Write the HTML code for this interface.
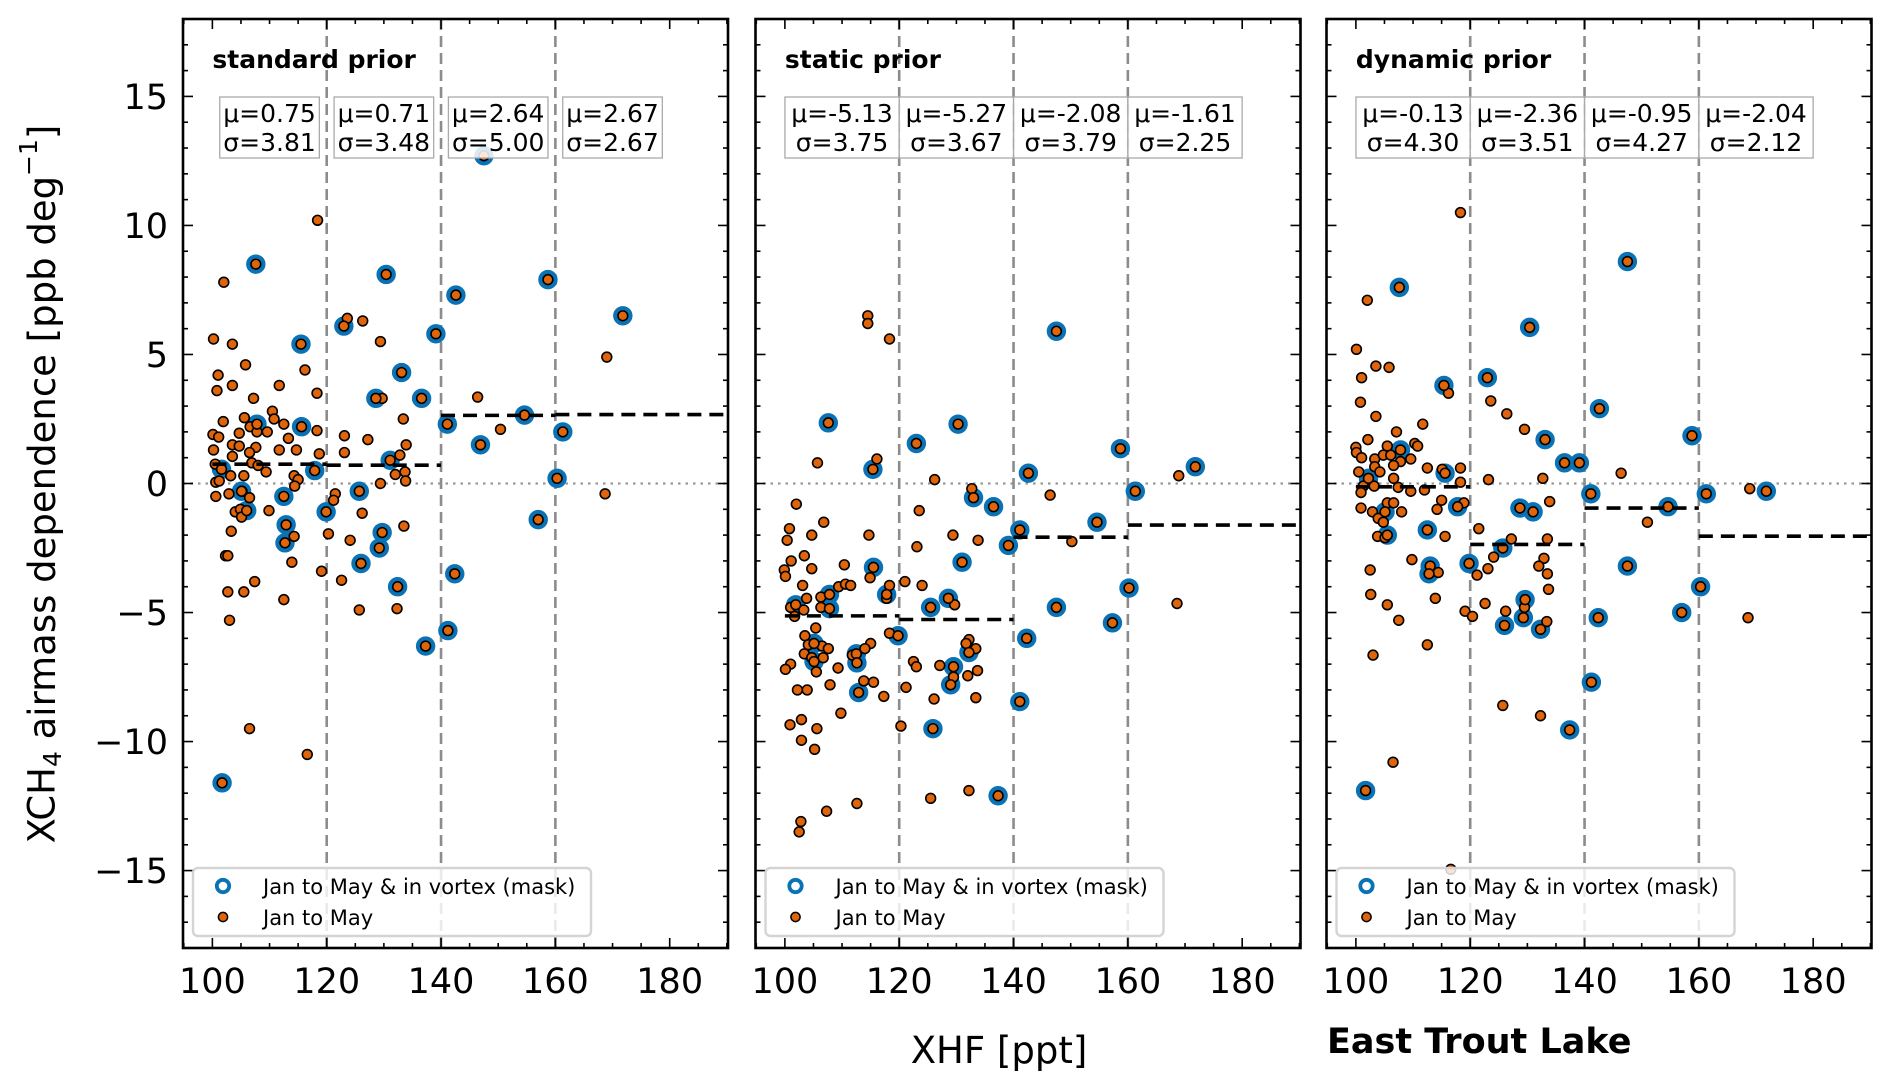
<!DOCTYPE html>
<html><head><meta charset="utf-8"><title>XCH4 airmass dependence vs XHF</title>
<style>html,body{margin:0;padding:0;background:#fff}svg{display:block}text{font-family:"DejaVu Sans","Liberation Sans",sans-serif}</style>
</head><body>
<svg id="chart" xmlns="http://www.w3.org/2000/svg" width="1892" height="1091" viewBox="0 0 1892 1091">
<rect x="0" y="0" width="1892" height="1091" fill="#fff"/>
<g id="layer"></g>
<text transform="translate(42,484) rotate(-90)" text-anchor="middle" dominant-baseline="central" font-size="37">XCH<tspan font-size="25" dy="10">4</tspan><tspan dy="-10"> airmass dependence [ppb deg</tspan><tspan font-size="25" dy="-14">−1</tspan><tspan dy="14">]</tspan></text>
<text x="999" y="1063" text-anchor="middle" font-size="37">XHF [ppt]</text>
<text x="1327" y="1053" font-size="35" font-weight="bold">East Trout Lake</text>
</svg>
<script>
// ---- data (panel 1: standard prior) ----
const p1x = [118.4,102.0,100.2,103.5,105.8,101.0,103.5,100.8,116.2,111.7,107.2,118.3,123.6,126.3,129.4,129.7,133.4,146.4,150.4,169.0,168.7,110.5,110.8,105.6,101.9,112.5,106.6,109.6,107.8,104.7,100.1,101.1,113.3,118.3,103.5,104.7,107.6,100.2,111.7,114.7,106.5,103.5,118.7,123.1,127.2,123.1,133.9,132.8,100.5,106.9,108.0,109.4,105.5,103.2,114.3,115.0,133.7,132.0,133.8,129.4,100.6,101.2,114.4,102.9,100.6,106.5,105.2,109.9,104.0,104.9,105.1,103.3,121.5,121.2,126.2,133.5,120.3,124.1,114.3,102.3,102.7,113.9,107.4,119.1,122.6,102.7,105.5,112.5,125.7,132.3,103.0,106.5,116.6];
const p1y = [10.2,7.8,5.6,5.4,4.6,4.2,3.8,3.6,4.4,3.8,3.3,3.5,6.4,6.3,5.5,3.3,2.5,3.35,2.1,4.9,-0.4,2.8,2.5,2.55,2.4,2.3,2.2,2.0,2.0,1.95,1.9,1.8,1.75,2.05,1.5,1.45,1.4,1.3,1.3,1.3,1.2,1.05,1.15,1.85,1.7,1.2,1.5,1.1,0.75,0.8,0.7,0.45,0.3,0.3,0.3,0.15,0.45,0.35,0.1,0.0,0.05,0.1,-0.1,-0.4,-0.5,-0.55,-0.3,-1.05,-1.1,-1.0,-1.3,-1.85,-0.4,-0.65,-1.15,-1.65,-1.95,-2.2,-2.05,-2.8,-2.8,-3.05,-3.8,-3.4,-3.75,-4.2,-4.2,-4.5,-4.9,-4.85,-5.3,-9.5,-10.5];
const p1mx = [107.6,130.4,123.0,115.5,133.1,128.6,136.6,139.1,142.6,147.5,158.7,171.8,154.6,141.1,146.9,161.3,160.3,157.0,142.4,141.2,137.3,132.4,129.2,129.7,126.0,125.7,119.9,131.1,117.9,115.6,107.8,105.1,106.0,112.5,112.9,112.7,101.6,101.7];
const p1my = [8.5,8.1,6.1,5.4,4.3,3.3,3.3,5.8,7.3,12.7,7.9,6.5,2.65,2.3,1.5,2.0,0.2,-1.4,-3.5,-5.7,-6.3,-4.0,-2.5,-1.9,-3.1,-0.3,-1.1,0.9,0.5,2.2,2.3,-0.3,-1.05,-0.5,-1.6,-2.3,0.55,-11.6];
const p1mean = [0.75,0.71,2.64,2.67];
const p1std = [3.81,3.48,5.00,2.67];
// ---- data (panel 2: static prior) ----
const p2x = [114.5,114.5,118.3,105.7,116.1,126.2,132.7,146.4,168.9,102.0,123.5,106.8,100.8,100.4,104.7,114.7,129.4,133.8,123.1,150.2,103.4,101.1,99.9,100.1,104.7,110.4,114.9,103.1,109.4,110.6,111.5,118.3,121.0,124.0,117.8,103.8,106.3,101.0,106.3,103.3,101.7,129.7,168.6,105.4,118.3,103.5,104.1,106.5,107.6,115.0,114.0,132.2,131.7,133.4,103.4,104.7,106.7,111.8,101.0,100.1,105.5,109.3,122.5,123.0,127.1,133.7,132.0,129.5,113.8,115.5,107.9,102.2,103.9,117.3,121.2,126.1,133.4,109.8,100.9,102.9,105.6,120.3,102.9,105.2,112.6,125.5,132.2,107.3,102.8,102.5];
const p2y = [6.5,6.2,5.6,0.8,0.95,0.15,-0.2,-0.45,0.3,-0.8,-1.05,-1.5,-1.75,-2.2,-2.0,-2.0,-2.0,-2.2,-2.45,-2.25,-2.8,-3.0,-3.35,-3.6,-3.3,-3.15,-3.65,-3.95,-4.0,-3.9,-3.95,-3.95,-3.8,-3.95,-4.45,-4.45,-4.4,-4.8,-4.8,-4.9,-5.15,-4.7,-4.65,-5.6,-5.8,-5.9,-6.25,-6.3,-6.4,-6.2,-6.4,-6.05,-6.2,-6.4,-6.6,-6.75,-6.75,-6.65,-7.0,-7.2,-7.3,-7.15,-6.9,-7.1,-7.05,-7.25,-7.45,-7.5,-7.65,-7.7,-7.8,-8.0,-8.0,-8.25,-7.9,-8.35,-8.3,-8.9,-9.35,-9.15,-9.5,-9.4,-9.95,-10.3,-12.4,-12.2,-11.9,-12.7,-13.1,-13.5];
const p2mx = [107.6,130.3,123.0,115.4,147.5,158.7,171.8,142.6,161.3,133.0,136.5,154.6,141.1,139.1,131.0,115.5,160.2,147.5,157.3,142.3,141.1,125.9,137.3,125.5,128.6,129.5,129.0,132.2,119.8,117.8,107.8,107.8,101.9,105.1,105.1,112.5,112.6,112.9];
const p2my = [2.35,2.3,1.55,0.55,5.9,1.35,0.65,0.4,-0.3,-0.55,-0.9,-1.5,-1.8,-2.4,-3.05,-3.25,-4.05,-4.8,-5.4,-6.0,-8.45,-9.5,-12.1,-4.8,-4.45,-7.1,-7.8,-6.55,-5.9,-4.3,-4.3,-4.85,-4.7,-6.2,-6.9,-6.6,-6.95,-8.1];
const p2mean = [-5.13,-5.27,-2.08,-1.61];
const p2std = [3.75,3.67,3.79,2.25];
// ---- data (panel 3: dynamic prior) ----
const p3x = [118.3,102.0,100.1,103.5,105.8,101.0,100.8,103.5,111.7,116.2,123.6,126.4,129.5,107.1,102.1,100.0,100.1,105.5,110.3,110.8,101.0,103.3,104.8,106.1,109.6,107.8,106.6,103.3,104.2,100.5,112.5,115.1,118.3,123.2,132.7,146.4,168.9,118.3,106.6,103.2,107.4,101.3,100.9,109.6,112.0,115.0,118.9,114.2,133.9,105.5,106.6,100.9,102.9,108.0,103.9,104.8,151.0,121.5,127.2,133.5,103.8,105.1,115.6,109.8,124.1,132.9,132.0,123.1,121.2,133.5,114.4,102.5,133.7,102.6,105.5,113.9,122.6,119.1,120.4,126.2,129.5,133.4,107.5,168.6,103.0,112.5,125.7,132.3,106.5,116.6];
const p3y = [10.5,7.1,5.2,4.55,4.5,4.1,3.15,2.6,2.3,3.5,3.2,2.7,2.1,2.0,1.7,1.4,1.2,1.45,1.55,1.45,1.0,0.95,1.1,1.1,0.95,0.85,0.7,0.65,0.45,0.45,0.6,0.55,0.6,0.15,0.2,0.4,-0.2,0.05,0.2,-0.1,-0.15,-0.1,-0.35,-0.3,-0.25,-0.65,-0.75,-1.0,-0.7,-0.75,-0.75,-0.95,-1.1,-1.1,-1.35,-1.5,-1.5,-1.75,-2.15,-2.15,-2.05,-2.1,-2.05,-2.95,-2.85,-2.9,-3.2,-3.3,-3.55,-3.5,-3.45,-3.35,-4.1,-4.3,-4.7,-4.45,-4.65,-4.95,-5.15,-4.95,-4.8,-5.35,-5.3,-5.2,-6.65,-6.25,-8.6,-9.0,-10.8,-14.95];
const p3mx = [107.6,130.4,123.0,115.4,133.1,136.5,139.1,142.6,147.5,158.8,171.8,161.3,141.1,154.6,128.7,131.0,117.8,115.6,107.8,102.2,112.5,105.5,105.1,119.8,125.7,113.0,112.8,129.6,129.3,126.0,132.3,147.5,160.3,142.4,157.0,141.2,137.4,101.7];
const p3my = [7.6,6.05,4.1,3.8,1.7,0.8,0.8,2.9,8.6,1.85,-0.3,-0.4,-0.4,-0.9,-0.95,-1.1,-0.9,0.4,1.3,0.2,-1.8,-2.0,-1.1,-3.1,-2.5,-3.2,-3.5,-4.5,-5.2,-5.5,-5.65,-3.2,-4.0,-5.2,-5.0,-7.7,-9.55,-11.9];
const p3mean = [-0.13,-2.36,-0.95,-2.04];
const p3std = [4.30,3.51,4.27,2.12];
const titles = ["standard prior","static prior","dynamic prior"];
const binEdges = [100,120,140,160];
const xTicks = [100,120,140,160,180];
const yTicks = [-15,-10,-5,0,5,10,15];
const legendLabels = ["Jan to May & in vortex (mask)","Jan to May"];

const panels = [
 {x:p1x,y:p1y,mx:p1mx,my:p1my,mean:p1mean,std:p1std},
 {x:p2x,y:p2y,mx:p2mx,my:p2my,mean:p2mean,std:p2std},
 {x:p3x,y:p3y,mx:p3mx,my:p3my,mean:p3mean,std:p3std}
];
const NS="http://www.w3.org/2000/svg";
const layer=document.getElementById('layer');
function mk(tag,attrs,parent){const e=document.createElementNS(NS,tag);for(const k in attrs)e.setAttribute(k,attrs[k]);(parent||layer).appendChild(e);return e;}
const lefts=[183,755.5,1326.5], W=545, TOP=19, BOT=948;
const XMIN=94.86, XMAX=190.2, YMIN=-18, YMAX=18;
const ORANGE="#e0640a", BLUE="#0a72b5";

panels.forEach((p,pi)=>{
  const L=lefts[pi], R=L+W;
  const sx=v=>L+(v-XMIN)/(XMAX-XMIN)*W;
  const sy=v=>BOT-(v-YMIN)/(YMAX-YMIN)*(BOT-TOP);
  const g=mk('g',{});
  
  
  const cid='clip'+pi;
  const cp=mk('clipPath',{id:cid},g); mk('rect',{x:L,y:TOP,width:W,height:BOT-TOP},cp);
  const z=mk('line',{x1:L,x2:R,y1:sy(0),y2:sy(0),stroke:'#999',"stroke-width":2.2,"stroke-dasharray":"2.5 5"},g);
  
  
  binEdges.slice(1).forEach(b=>{
    const l=mk('line',{x1:sx(b),x2:sx(b),y1:TOP,y2:BOT,stroke:'#8c8c8c',"stroke-width":2.6,"stroke-dasharray":"11 6"},g);
    
    
  });
  const pts=mk('g',{"clip-path":"url(#"+cid+")"},g);
  p.mx.forEach((v,i)=>{
    const c=mk('circle',{cx:sx(v),cy:sy(p.my[i]),r:7.6,fill:'none',stroke:BLUE,"stroke-width":4.2},pts);
    
    
  });
  p.x.concat(p.mx).forEach((v,i)=>{
    const yv=i<p.x.length?p.y[i]:p.my[i-p.x.length];
    const c=mk('circle',{cx:sx(v),cy:sy(yv),r:4.9,fill:ORANGE,stroke:'#000',"stroke-width":1.6},pts);
    
    
  });
  const ends=binEdges.concat([XMAX]);
  p.mean.forEach((m,i)=>{
    const l=mk('line',{x1:sx(ends[i]),x2:sx(ends[i+1]),y1:sy(m),y2:sy(m),stroke:'#000',"stroke-width":3.6,"stroke-dasharray":"14 8"},g);
    
    
  });
  p.mean.forEach((m,i)=>{
    const cx=sx(ends[i]+10);
    const t1='μ='+m.toFixed(2), t2='σ='+p.std[i].toFixed(2);
    const n=Math.max(t1.length,t2.length);
    const w=n*14.6+12;
    const b=mk('rect',{x:cx-w/2,y:97,width:w,height:61,fill:'#fff',"fill-opacity":0.85,stroke:'#aaa',"stroke-width":1.3},g);
    
    
    const a=mk('text',{x:cx,y:122,"text-anchor":"middle","font-size":25},g); a.textContent=t1;
    
    
    const s=mk('text',{x:cx,y:151,"text-anchor":"middle","font-size":25},g); s.textContent=t2;
    
    
  });
  const t=mk('text',{x:sx(100),y:68,"font-size":25,"font-weight":"bold"},g); t.textContent=titles[pi];
  
  
  for(let v=95;v<=190;v+=5){const maj=v%20===0&&v>=100&&v<=180;const len=maj?10:5;
    mk('line',{x1:sx(v),x2:sx(v),y1:BOT,y2:BOT-len,stroke:'#000',"stroke-width":1.6},g);
    mk('line',{x1:sx(v),x2:sx(v),y1:TOP,y2:TOP+len,stroke:'#000',"stroke-width":1.6},g);}
  for(let v=-18;v<=18;v++){const maj=v%5===0;const len=maj?10:5;
    mk('line',{x1:L,x2:L+len,y1:sy(v),y2:sy(v),stroke:'#000',"stroke-width":1.6},g);
    mk('line',{x1:R,x2:R-len,y1:sy(v),y2:sy(v),stroke:'#000',"stroke-width":1.6},g);}
  xTicks.forEach(v=>{const tl=mk('text',{x:sx(v),y:993,"text-anchor":"middle","font-size":35},g);tl.textContent=v;
    
    });
  if(pi===0) yTicks.forEach(v=>{const tl=mk('text',{x:168,y:sy(v)+12.5,"text-anchor":"end","font-size":35},g);tl.textContent=(v<0?'−':'')+Math.abs(v);
    
    });
  const lg=mk('g',{},g);
  
  
  mk('rect',{x:L+10,y:868,width:398,height:68,rx:5,fill:'#fff',"fill-opacity":0.82,stroke:'#d4d4d4',"stroke-width":2.4},lg);
  mk('circle',{cx:L+40,cy:886,r:6.2,fill:'none',stroke:BLUE,"stroke-width":3.8},lg);
  mk('circle',{cx:L+40,cy:917,r:4.6,fill:ORANGE,stroke:'#000',"stroke-width":1.5},lg);
  legendLabels.forEach((s,i)=>{const e=mk('text',{x:L+80,y:894+i*31,"font-size":21},lg);e.textContent=s;
    
    });
  const f=mk('rect',{x:L,y:TOP,width:W,height:BOT-TOP,fill:'none',stroke:'#000',"stroke-width":2.6},g);
  
  
});
</script>
</body></html>
